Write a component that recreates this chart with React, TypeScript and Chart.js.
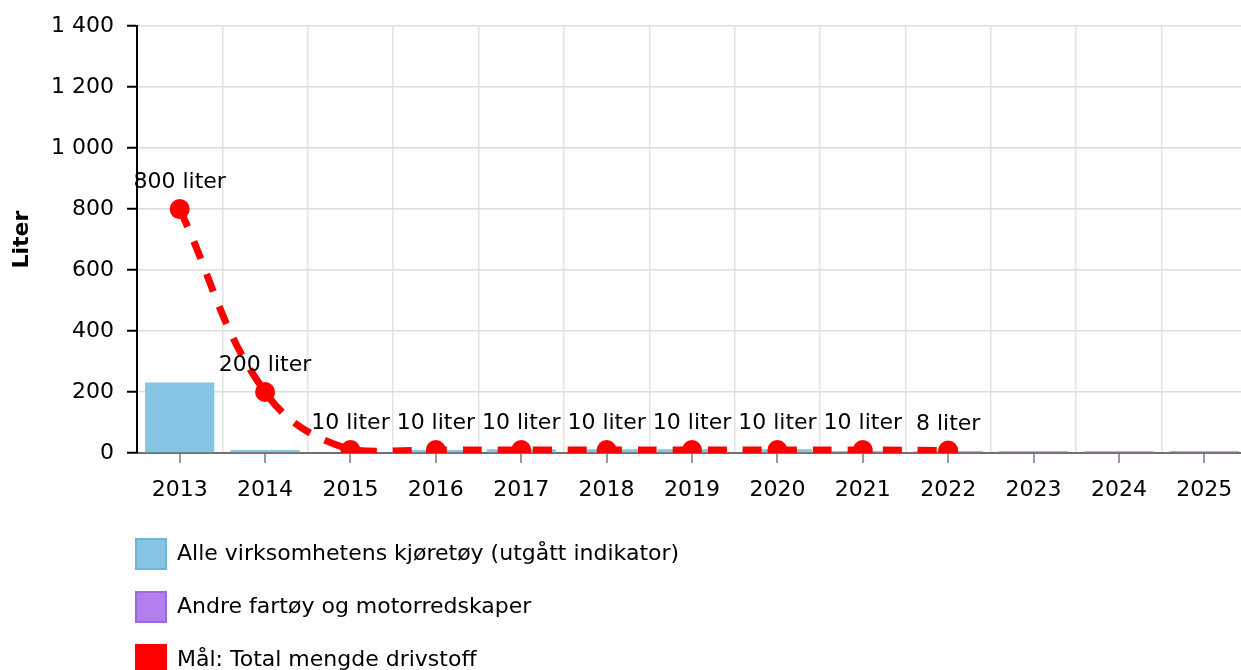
import React, { useEffect, useRef } from 'react';
import { Chart, registerables } from 'chart.js';

Chart.register(...registerables);

const years = ['2013', '2014', '2015', '2016', '2017', '2018', '2019', '2020', '2021', '2022', '2023', '2024', '2025'];
const alleKjoretoy = [231, 10, null, 10, 12, 12, 12, 12, null, null, null, null, null];
const andreFartoy = [null, null, null, null, null, null, null, null, 6, 6, 6, 6, 6];
const maalTotal = [800, 200, 10, 10, 10, 10, 10, 10, 10, 8, null, null, null];
const seriesNames = ['Alle virksomhetens kjøretøy (utgått indikator)', 'Andre fartøy og motorredskaper', 'Mål: Total mengde drivstoff'];
const yMax = 1400;
const yStep = 200;

const FONT = "'DejaVu Sans', Verdana, sans-serif";
const FS = 22;
const BLUE = '#86C4E3';
const BLUE_BORDER = '#6BB6DD';
const PURPLE = '#B37EEE';
const PURPLE_BORDER = '#A066E8';
const RED = '#FF0000';

const CANVAS_W = 1262;
const CANVAS_H = 685;
const LEGEND_W = 600;

const fmt = (v: number) => String(v).replace(/\B(?=(\d{3})+(?!\d))/g, ' ');

const xTickMarks = {
  id: 'xTickMarks',
  afterDraw(chart: any) {
    const xs = chart.scales.x;
    const bottom = chart.chartArea.bottom;
    const ctx = chart.ctx;
    ctx.save();
    ctx.strokeStyle = '#9a9a9a';
    ctx.lineWidth = 2;
    xs.ticks.forEach((_t: any, i: number) => {
      const x = Math.round(xs.getPixelForTick(i));
      ctx.beginPath();
      ctx.moveTo(x, bottom + 1);
      ctx.lineTo(x, bottom + 10);
      ctx.stroke();
    });
    ctx.restore();
  },
};

const pointLabels = {
  id: 'pointLabels',
  afterDatasetsDraw(chart: any) {
    const meta = chart.getDatasetMeta(2);
    const ctx = chart.ctx;
    ctx.save();
    ctx.font = `${FS}px ${FONT}`;
    ctx.fillStyle = '#000';
    ctx.textAlign = 'center';
    ctx.textBaseline = 'alphabetic';
    meta.data.forEach((pt: any, i: number) => {
      const v = maalTotal[i];
      if (v == null) return;
      ctx.fillText(`${v} liter`, pt.x, pt.y - 21);
    });
    ctx.restore();
  },
};

const legendLayout = {
  id: 'legendLayout',
  beforeLayout(chart: any) {
    const lg = chart.legend;
    if (!lg || lg.__rowsPatched) return;
    const orig = lg._fitRows.bind(lg);
    lg._fitRows = (...args: any[]) => {
      const mw = lg.maxWidth;
      lg.maxWidth = LEGEND_W;
      const r = orig(...args);
      lg.maxWidth = mw;
      return r;
    };
    lg.__rowsPatched = true;
  },
  afterLayout(chart: any) {
    const lg = chart.legend;
    if (!lg) return;
    const pad = lg.options.labels.padding;
    lg.left = chart.chartArea.left - 1 - pad;
    lg.right = lg.left + LEGEND_W;
    lg.width = LEGEND_W;
  },
};

export default function App() {
  const ref = useRef<HTMLCanvasElement | null>(null);

  useEffect(() => {
    if (!ref.current) return;
    Chart.defaults.font.family = FONT;
    Chart.defaults.font.size = FS;
    Chart.defaults.color = '#000';

    const fills = [BLUE, PURPLE, RED];
    const strokes = [BLUE_BORDER, PURPLE_BORDER, RED];

    const chart = new Chart(ref.current, {
      type: 'bar',
      data: {
        labels: years,
        datasets: [
          {
            type: 'bar',
            label: seriesNames[0],
            data: alleKjoretoy,
            backgroundColor: BLUE,
            borderWidth: 0,
            barPercentage: 0.9,
            categoryPercentage: 0.9,
            order: 1,
          },
          {
            type: 'bar',
            label: seriesNames[1],
            data: andreFartoy,
            backgroundColor: PURPLE,
            borderWidth: 0,
            barPercentage: 0.9,
            categoryPercentage: 0.9,
            order: 1,
          },
          {
            type: 'line',
            label: seriesNames[2],
            data: maalTotal,
            borderColor: RED,
            backgroundColor: RED,
            borderWidth: 7,
            borderDash: [19, 16],
            borderCapStyle: 'butt',
            tension: 0.4,
            pointRadius: 10,
            pointHoverRadius: 10,
            pointBorderWidth: 0,
            pointBackgroundColor: RED,
            fill: false,
            spanGaps: false,
            order: 0,
          },
        ],
      } as any,
      options: {
        responsive: false,
        animation: false,
        maintainAspectRatio: false,
        layout: { padding: { left: 0, right: CANVAS_W - 1247, top: 23, bottom: 0 } },
        plugins: {
          tooltip: { enabled: false },
          legend: {
            position: 'bottom',
            align: 'start',
            fullSize: false,
            labels: {
              boxWidth: 30,
              boxHeight: 30,
              padding: 23,
              color: '#000',
              font: { size: FS, family: FONT },
              sort: (a: any, b: any) => a.datasetIndex - b.datasetIndex,
              generateLabels: (chart: any) => {
                const items = Chart.defaults.plugins.legend.labels.generateLabels(chart);
                return items.map((it: any) => ({
                  ...it,
                  fillStyle: fills[it.datasetIndex],
                  strokeStyle: strokes[it.datasetIndex],
                  lineWidth: 2,
                  lineDash: [],
                  lineCap: 'butt',
                }));
              },
            },
          },
        },
        scales: {
          x: {
            stacked: true,
            offset: true,
            grid: { offset: true, color: '#e3e3e3', lineWidth: 1.5, drawTicks: false },
            border: { color: '#707070', width: 2 },
            ticks: { padding: 24, color: '#000', font: { size: FS, family: FONT } },
            afterFit: (s: any) => {
              s.height = 63;
            },
          },
          y: {
            stacked: false,
            min: 0,
            max: yMax,
            title: {
              display: true,
              text: 'Liter',
              color: '#000',
              font: { size: FS, weight: 'bold', family: FONT },
              padding: { top: 9, bottom: 0 },
            },
            grid: { color: '#dcdcdc', lineWidth: 1.5, tickColor: '#000', tickWidth: 2, tickLength: 10 },
            border: { color: '#000', width: 2 },
            ticks: {
              stepSize: yStep,
              padding: 13,
              color: '#000',
              font: { size: FS, family: FONT },
              callback: (v: any) => fmt(Number(v)),
            },
            afterFit: (s: any) => {
              s.width = 137;
            },
          },
        },
      } as any,
      plugins: [xTickMarks, pointLabels, legendLayout],
    });
    return () => chart.destroy();
  }, []);

  return (
    <div style={{ position: 'absolute', left: 0, top: 0, width: 1241, height: 670, overflow: 'hidden', background: '#fff' }}>
      <canvas ref={ref} width={CANVAS_W} height={CANVAS_H} style={{ width: CANVAS_W, height: CANVAS_H, display: 'block' }} />
    </div>
  );
}
